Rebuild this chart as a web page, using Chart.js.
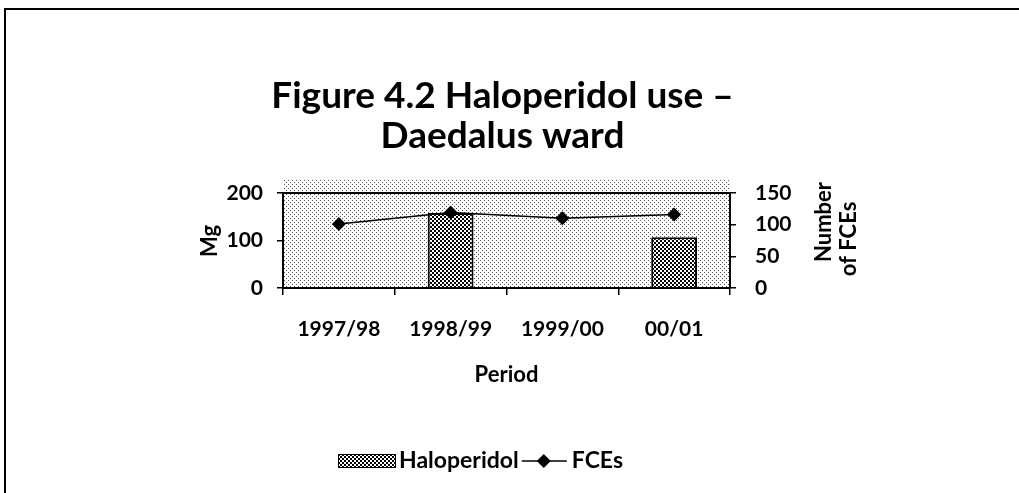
<!DOCTYPE html>
<html>
<head>
<meta charset="utf-8">
<script src="https://cdn.jsdelivr.net/npm/chart.js@4.4.0/dist/chart.umd.min.js"></script>
<style>
  html, body { margin: 0; padding: 0; background: #fff; }
  #wrap { width: 1019px; height: 493px; position: relative; }
</style>
</head>
<body>
<div id="wrap"><canvas id="grafico" width="1019" height="493"></canvas></div>
<script>
// datos
const periodos = ['1997/98', '1998/99', '1999/00', '00/01'];
const haloperidol = [null, 158, null, 107];
const fces = [101, 119, 110, 116];
const tituloGrafico = ['Figure 4.2 Haloperidol use \u2013', 'Daedalus ward'];
const tituloDerecho = ['Number', 'of FCEs'];

const FUENTE = 'Lato, "Open Sans", sans-serif';
const canvas = document.getElementById('grafico');
const ctx = canvas.getContext('2d');

// patron de puntos para el fondo del area de trazado
function crearPatronPuntos() {
  const c = document.createElement('canvas');
  c.width = 4; c.height = 4;
  const g = c.getContext('2d');
  g.fillStyle = '#fff';
  g.fillRect(0, 0, 4, 4);
  g.fillStyle = '#555';
  g.fillRect(0, 0, 1, 1);
  g.fillRect(2, 2, 1, 1);
  return ctx.createPattern(c, 'repeat');
}

// patron de cuadros para las barras
function crearPatronCuadros() {
  const c = document.createElement('canvas');
  c.width = 4; c.height = 4;
  const g = c.getContext('2d');
  g.fillStyle = '#fff';
  g.fillRect(0, 0, 4, 4);
  g.fillStyle = '#000';
  g.fillRect(0, 0, 2, 2);
  g.fillRect(2, 2, 2, 2);
  return ctx.createPattern(c, 'repeat');
}

const patronPuntos = crearPatronPuntos();
const patronCuadros = crearPatronCuadros();

const fondoPlugin = {
  id: 'fondo',
  beforeDraw(chart) {
    const { ctx, chartArea: a } = chart;
    ctx.save();
    ctx.fillStyle = patronPuntos;
    ctx.fillRect(a.left, a.top - 13, a.right - a.left, a.bottom - a.top + 13);
    ctx.restore();
  },
  beforeDatasetsDraw(chart) {
    const { ctx, chartArea: a } = chart;
    ctx.save();
    ctx.strokeStyle = '#000';
    ctx.lineWidth = 2;
    ctx.beginPath();
    ctx.moveTo(a.left, a.top);
    ctx.lineTo(a.right, a.top);
    ctx.stroke();
    ctx.restore();
  },
  afterDraw(chart) {
    const { ctx } = chart;
    ctx.save();
    // marco exterior
    ctx.strokeStyle = '#000';
    ctx.lineWidth = 2;
    ctx.beginPath();
    ctx.moveTo(1019, 9);
    ctx.lineTo(5, 9);
    ctx.lineTo(5, 493);
    ctx.stroke();

    // titulos rotados de los ejes
    ctx.fillStyle = '#000';
    ctx.font = 'bold 22px ' + FUENTE;
    ctx.textAlign = 'center';
    ctx.textBaseline = 'middle';
    ctx.save();
    ctx.translate(210, 241);
    ctx.rotate(-Math.PI / 2);
    ctx.fillText('Mg', 0, 0);
    ctx.restore();
    ctx.save();
    ctx.translate(824, 222);
    ctx.rotate(-Math.PI / 2);
    ctx.fillText(tituloDerecho[0], 0, 0);
    ctx.restore();
    ctx.save();
    ctx.translate(849, 239);
    ctx.rotate(-Math.PI / 2);
    ctx.fillText(tituloDerecho[1], 0, 0);
    ctx.restore();

    // leyenda
    ctx.font = 'bold 23px ' + FUENTE;
    const y = 461;
    let x = 338;
    ctx.fillStyle = patronCuadros;
    ctx.fillRect(x, y - 7, 58, 14);
    ctx.lineWidth = 1;
    ctx.strokeRect(x + 0.5, y - 6.5, 57, 13);
    x += 61;
    ctx.fillStyle = '#000';
    ctx.textAlign = 'left';
    ctx.fillText('Haloperidol', x, y);
    x += ctx.measureText('Haloperidol').width + 3;
    ctx.lineWidth = 1.5;
    ctx.beginPath();
    ctx.moveTo(x, y);
    ctx.lineTo(x + 45, y);
    ctx.stroke();
    const cx = x + 22;
    ctx.beginPath();
    ctx.moveTo(cx, y - 7);
    ctx.lineTo(cx + 7, y);
    ctx.lineTo(cx, y + 7);
    ctx.lineTo(cx - 7, y);
    ctx.closePath();
    ctx.fill();
    x += 50;
    ctx.fillText('FCEs', x, y);
    ctx.restore();
  }
};

const fuenteTicks = { family: FUENTE, size: 21, weight: 'bold' };
const fuenteTitulo = { family: FUENTE, size: 22, weight: 'bold' };

new Chart(canvas, {
  data: {
    labels: periodos,
    datasets: [
      {
        type: 'bar',
        label: 'Haloperidol',
        data: haloperidol,
        yAxisID: 'y',
        backgroundColor: patronCuadros,
        borderColor: '#000',
        borderWidth: 2,
        categoryPercentage: 1,
        barPercentage: 0.41,
        order: 2
      },
      {
        type: 'line',
        label: 'FCEs',
        data: fces,
        yAxisID: 'y1',
        borderColor: '#000',
        borderWidth: 1.5,
        pointStyle: 'rectRot',
        pointRadius: 7,
        pointBackgroundColor: '#000',
        pointBorderColor: '#000',
        pointBorderWidth: 0,
        order: 1
      }
    ]
  },
  options: {
    responsive: false,
    animation: false,
    devicePixelRatio: 1,
    layout: { padding: { left: 0, right: 14, top: 0, bottom: 100 } },
    plugins: {
      legend: { display: false },
      tooltip: { enabled: false },
      title: {
        display: true,
        text: tituloGrafico,
        color: '#000',
        font: { family: FUENTE, size: 37, weight: 'bold', lineHeight: 1.08 },
        padding: { top: 76, bottom: 37 }
      }
    },
    scales: {
      x: {
        offset: true,
        afterFit(s) { s.height = 105; },
        grid: { offset: true, drawOnChartArea: false, tickLength: 7, color: '#000', lineWidth: 1.5 },
        border: { display: true, color: '#000', width: 2 },
        ticks: { color: '#000', font: fuenteTicks, padding: 22, maxRotation: 0 },
        title: { display: true, text: 'Period', color: '#000', font: fuenteTitulo, padding: { top: 0, bottom: 5 } }
      },
      y: {
        position: 'left',
        min: 0,
        max: 200,
        afterFit(s) { s.width = 283; },
        grid: { drawOnChartArea: false, tickLength: 6, color: '#000', lineWidth: 1.5 },
        border: { display: true, color: '#000', width: 2 },
        ticks: { stepSize: 100, color: '#000', font: fuenteTicks, padding: 14 }
      },
      y1: {
        position: 'right',
        min: 0,
        max: 150,
        afterFit(s) { s.width = 275; },
        grid: { drawOnChartArea: false, tickLength: 6, color: '#000', lineWidth: 1.5 },
        border: { display: true, color: '#000', width: 2 },
        ticks: { stepSize: 50, color: '#000', font: fuenteTicks, padding: 19 }
      }
    }
  },
  plugins: [fondoPlugin]
});
</script>
</body>
</html>
